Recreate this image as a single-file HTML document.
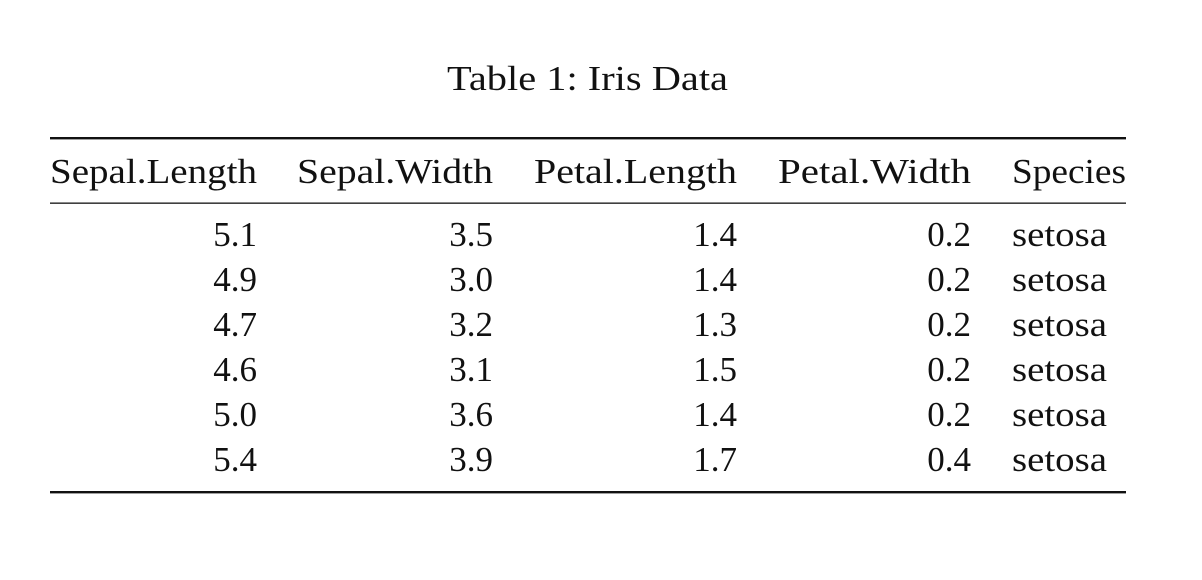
<!DOCTYPE html>
<html><head><meta charset="utf-8"><style>
html,body{margin:0;padding:0;background:#fff;}
svg{display:block;}
text{font-family:"Liberation Serif",serif;font-size:35px;fill:#111;}
</style></head><body>
<svg width="1202" height="580" viewBox="0 0 1202 580" xmlns="http://www.w3.org/2000/svg">
<rect width="1202" height="580" fill="#fff"/>
<text x="447" y="90" textLength="281" lengthAdjust="spacingAndGlyphs">Table 1: Iris Data</text>
<rect x="50" y="137" width="1076" height="2.4" fill="#111"/>
<rect x="50" y="202.5" width="1076" height="1.3" fill="#111"/>
<rect x="50" y="491" width="1076" height="2.4" fill="#111"/>
<text x="50" y="183" textLength="207" lengthAdjust="spacingAndGlyphs">Sepal.Length</text>
<text x="297" y="183" textLength="196" lengthAdjust="spacingAndGlyphs">Sepal.Width</text>
<text x="534" y="183" textLength="203" lengthAdjust="spacingAndGlyphs">Petal.Length</text>
<text x="778" y="183" textLength="193" lengthAdjust="spacingAndGlyphs">Petal.Width</text>
<text x="1012" y="183" textLength="114" lengthAdjust="spacingAndGlyphs">Species</text>
<g text-anchor="end">
<text x="257" y="246">5.1</text><text x="493" y="246">3.5</text><text x="737" y="246">1.4</text><text x="971" y="246">0.2</text>
<text x="257" y="291">4.9</text><text x="493" y="291">3.0</text><text x="737" y="291">1.4</text><text x="971" y="291">0.2</text>
<text x="257" y="336">4.7</text><text x="493" y="336">3.2</text><text x="737" y="336">1.3</text><text x="971" y="336">0.2</text>
<text x="257" y="381">4.6</text><text x="493" y="381">3.1</text><text x="737" y="381">1.5</text><text x="971" y="381">0.2</text>
<text x="257" y="426">5.0</text><text x="493" y="426">3.6</text><text x="737" y="426">1.4</text><text x="971" y="426">0.2</text>
<text x="257" y="471">5.4</text><text x="493" y="471">3.9</text><text x="737" y="471">1.7</text><text x="971" y="471">0.4</text>
</g>
<g>
<text x="1012" y="246" textLength="95" lengthAdjust="spacingAndGlyphs">setosa</text>
<text x="1012" y="291" textLength="95" lengthAdjust="spacingAndGlyphs">setosa</text>
<text x="1012" y="336" textLength="95" lengthAdjust="spacingAndGlyphs">setosa</text>
<text x="1012" y="381" textLength="95" lengthAdjust="spacingAndGlyphs">setosa</text>
<text x="1012" y="426" textLength="95" lengthAdjust="spacingAndGlyphs">setosa</text>
<text x="1012" y="471" textLength="95" lengthAdjust="spacingAndGlyphs">setosa</text>
</g>
</svg>
</body></html>
